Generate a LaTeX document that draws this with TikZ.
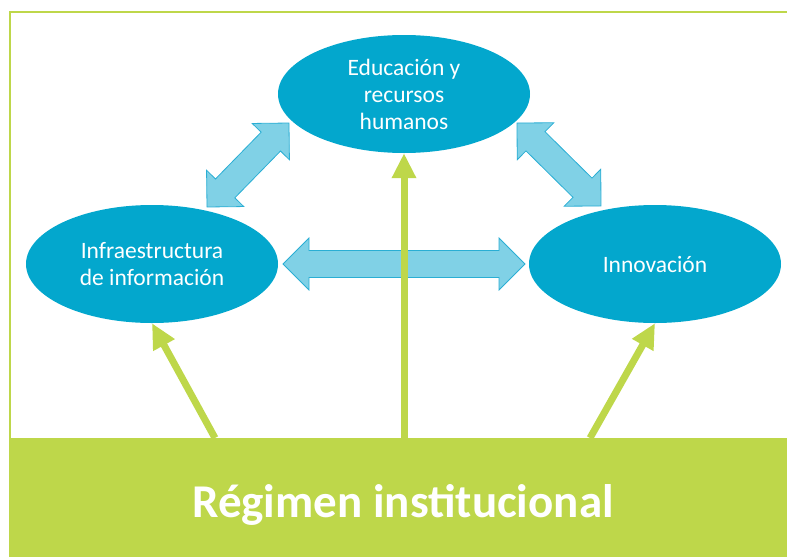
\documentclass[tikz,border=0pt]{standalone}
\usepackage{fontspec}
\setmainfont{Carlito}
\usepackage{tikz}
\usetikzlibrary{calc,shapes.geometric,arrows.meta}
\definecolor{leaf}{HTML}{BED74A}
\definecolor{ocean}{HTML}{03A7CD}
\definecolor{sky}{HTML}{80D1E6}
\definecolor{skyline}{HTML}{2AAED4}
\tikzset{
  topic/.style={ellipse,fill=ocean,text=white,inner sep=0pt,
    minimum width=252,minimum height=118,align=center,
    font=\fontsize{23.5}{27}\selectfont},
  growth/.style={draw=leaf,line width=7pt,
    -{Triangle[width=23pt,length=25pt]}},
  flow/.style={fill=sky,draw=skyline,line width=0.8pt,line join=miter}
}
% block arrow with a head at each end, from #1 to #2
\newcommand\twoway[2]{
  \pgfpointdiff{\pgfpointanchor{#1}{center}}{\pgfpointanchor{#2}{center}}
  \pgfgetlastxy{\arx}{\ary}
  \pgfmathsetmacro\arlen{veclen(\arx,\ary)}
  \pgfmathsetmacro\arang{atan2(\ary,\arx)}
  \begin{scope}[shift={(#1)},rotate=\arang]
    \draw[flow] (0pt,0pt) -- (26pt,26pt) -- (26pt,13.5pt) --
      ({\arlen pt-26pt},13.5pt) -- ({\arlen pt-26pt},26pt) --
      ({\arlen pt},0pt) --
      ({\arlen pt-26pt},-26pt) -- ({\arlen pt-26pt},-13.5pt) --
      (26pt,-13.5pt) -- (26pt,-26pt) -- cycle;
  \end{scope}
}
\begin{document}
\begin{tikzpicture}[x=1pt,y=-1pt]
  \useasboundingbox (0,0) rectangle (787,557);

  % frame and base
  \draw[leaf,line width=2pt] (10,440) -- (10,12) -- (787,12);
  \node[fill=leaf,inner sep=0pt,minimum width=778,minimum height=119]
    (base) at (398,497.5) {};
  \node[text=white,font=\fontsize{47}{50}\selectfont\bfseries]
    (regimen) at (403,505) {Régimen institucional};

  \node[topic] (edu) at (404,94) {Educación y\\recursos\\humanos};
  \node[topic] (infra) at (152,264) {Infraestructura\\de información};
  \node[topic] (innov) at (655,264) {Innovación};

  \coordinate (ul-a) at (207,207);
  \coordinate (ul-b) at (289,123);
  \coordinate (mid-a) at (283,264);
  \coordinate (mid-b) at (525,264);
  \coordinate (ur-a) at (517,123);
  \coordinate (ur-b) at (601,206);
  \twoway{ul-a}{ul-b}
  \twoway{mid-a}{mid-b}
  \twoway{ur-a}{ur-b}

  \coordinate (from-l) at (215,438);
  \coordinate (from-c) at (404,438);
  \coordinate (from-r) at (590,438);
  \draw[growth] (from-l) -- (infra.south);
  \draw[growth] (from-c) -- (edu.south);
  \draw[growth] (from-r) -- (innov.south);
\end{tikzpicture}
\end{document}
